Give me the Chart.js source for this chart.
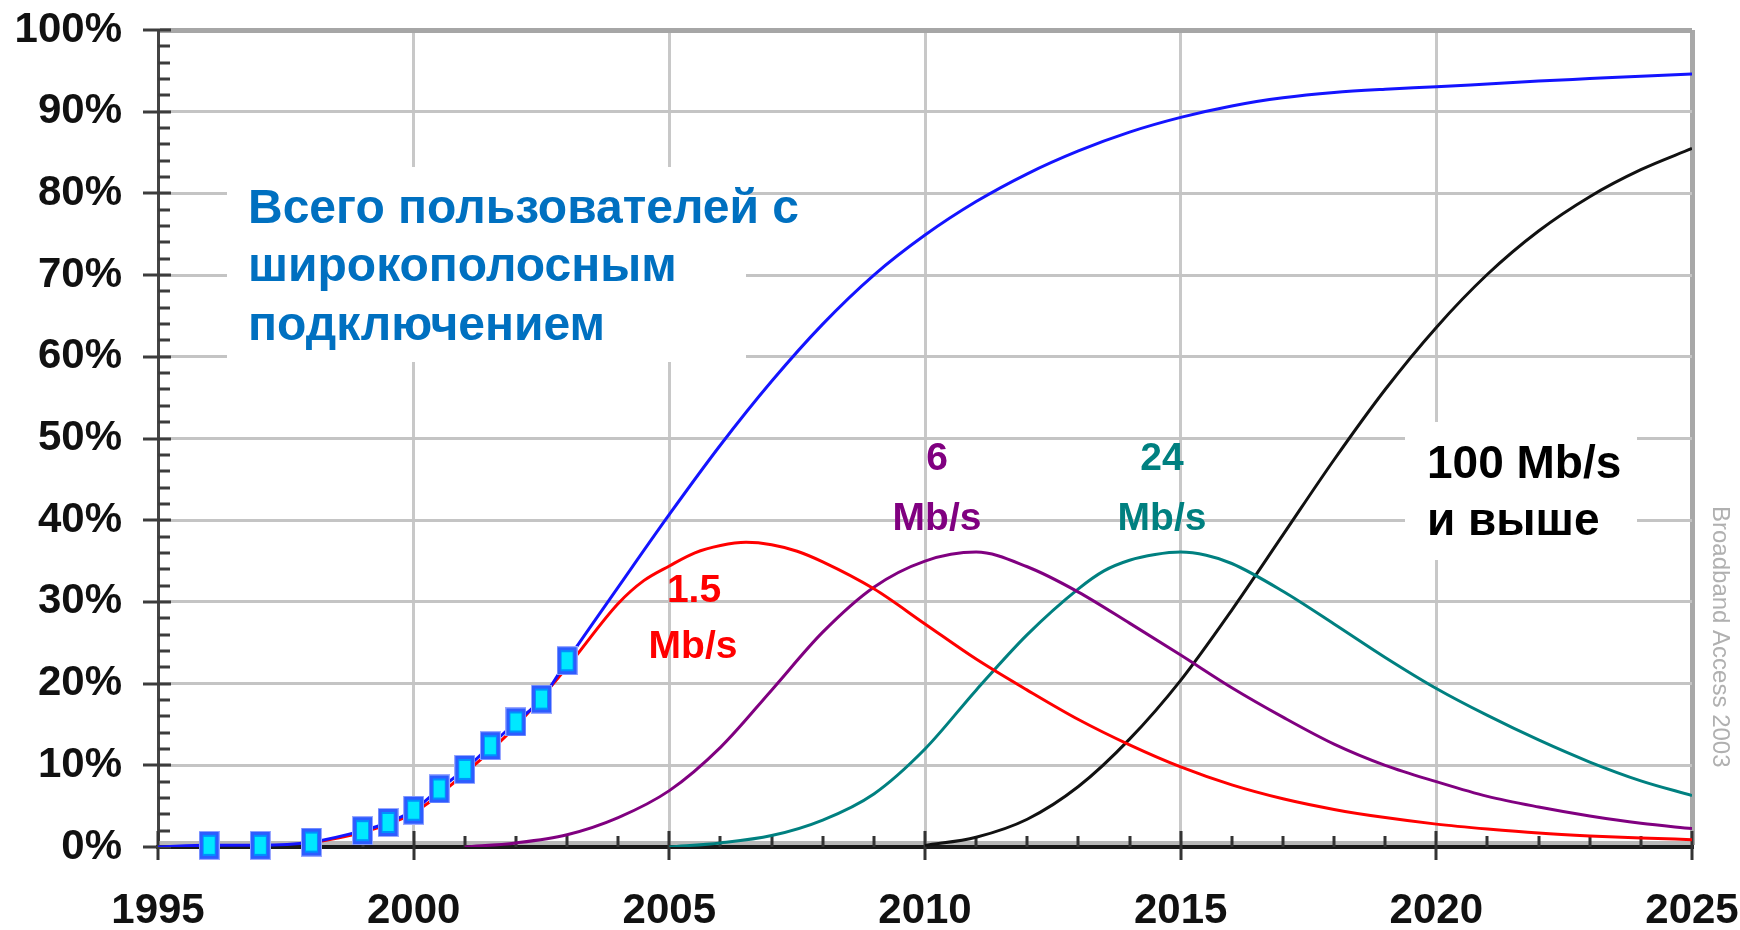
<!DOCTYPE html>
<html>
<head>
<meta charset="utf-8">
<script src="https://cdn.jsdelivr.net/npm/chart.js@4.4.1/dist/chart.umd.min.js"></script>
<style>
html,body{margin:0;padding:0;background:#fff;}
canvas{display:block;}
</style>
</head>
<body>
<canvas id="c" width="1740" height="930"></canvas>
<script>
// ---- data ----
const years = [1995,1996,1997,1998,1999,2000,2001,2002,2003,2004,2005,2006,2007,2008,2009,2010,
               2011,2012,2013,2014,2015,2016,2017,2018,2019,2020,2021,2022,2023,2024,2025];
const measuredYears = [1996,1997,1998,1999,1999.5,2000,2000.5,2001,2001.5,2002,2002.5,2003];
const measuredTotal = [0.2,0.2,0.6,2.0,3.0,4.5,7.1,9.5,12.4,15.3,18.1,22.8];
const forecastYears = [2004,2005,2006,2007,2008,2009,2010,2011,2012,2013,2014,2015,2016,2017,2018,2019,2020,2021,2022,2023,2024,2025];
const forecastTotal = [31.8,40.7,49.2,57.0,64.0,70.0,74.9,79.0,82.4,85.2,87.5,89.3,90.7,91.7,92.35,92.75,93.05,93.4,93.75,94.05,94.35,94.6];
const years1_5 = [1998,1999,2000,2001,2002,2003,2004,2004.5,2005,2005.5,2006,2006.5,2007,2007.5,
                  2008,2009,2010,2011,2012,2013,2014,2015,2016,2017,2018,2019,2020,2021,2022,2023,2024,2025];
const speed1_5 = [0.5,1.8,4.2,9.0,14.8,22.0,29.8,32.6,34.4,36.0,36.9,37.3,37.0,36.2,
                  34.9,31.6,27.3,23.0,19.2,15.6,12.5,9.8,7.6,5.9,4.6,3.6,2.8,2.2,1.7,1.35,1.1,0.9];
const speed6   = [null,null,null,null,null,null,0,0.5,1.5,3.6,6.9,12.2,19.2,26.3,31.8,35.0,36.1,34.3,31.2,27.4,23.5,19.5,15.9,12.6,10.0,8.0,6.2,4.9,3.8,2.9,2.25];
const years24  = [2005,2006,2007,2008,2009,2010,2011,2012,2013,2013.5,2014,2014.5,2015,2015.5,2016,
                  2017,2018,2019,2020,2021,2022,2023,2024,2025];
const speed24  = [0,0.5,1.4,3.3,6.5,12.0,19.2,26.0,31.6,33.8,35.1,35.8,36.1,35.7,34.7,
                  31.3,27.3,23.2,19.4,16.1,13.1,10.4,8.1,6.3];
const speed100 = [null,null,null,null,null,null,null,null,null,null,null,null,null,null,null,0.2,1.2,3.4,7.4,13.2,20.4,29.0,38.2,47.4,56.0,63.6,70.1,75.4,79.6,82.9,85.5];
const yTickValues = [0,10,20,30,40,50,60,70,80,90,100];
const xTickValues = [1995,2000,2005,2010,2015,2020,2025];

// ---- build ----
const FONT = '"Liberation Sans", Arial, Helvetica, sans-serif';
Chart.defaults.font.family = FONT;

function pairs(xs, ys){ return xs.map((x,i)=>({x:x, y:ys[i]})); }
const totalLine = [{x:1995,y:0}].concat(pairs(measuredYears, measuredTotal), pairs(forecastYears, forecastTotal));

function makeMarker(){
  const c = document.createElement('canvas');
  c.width = 21; c.height = 29;
  const g = c.getContext('2d');
  g.fillStyle = '#9aa8ff'; g.fillRect(0,0,21,29);
  g.fillStyle = '#2d5cff'; g.fillRect(1,1,19,27);
  g.fillStyle = '#0090ff'; g.fillRect(4,4,13,21);
  g.fillStyle = '#00e8ff'; g.fillRect(5,6,11,17);
  return c;
}
const marker = makeMarker();

const lineDefaults = {borderWidth:3, pointRadius:0, cubicInterpolationMode:'monotone', fill:false, spanGaps:false};

const annotate = {
  id:'annotate',
  beforeDatasetsDraw(chart){
    const c = chart.ctx, a = chart.chartArea;
    const xs = chart.scales.x, ys = chart.scales.y;
    c.save();
    c.fillStyle = '#b9b9b9';
    c.fillRect(a.left, a.bottom - 6, a.right - a.left, 4);
    c.fillStyle = '#ffffff';
    c.fillRect(227, 167, 519, 195);
    c.fillRect(1405, 422, 232, 138);
    // tick marks
    c.fillStyle = '#333333';
    for (let yr = 1995; yr <= 2025; yr++){
      const px = Math.round(xs.getPixelForValue(yr));
      if (yr % 5 === 0) c.fillRect(px - 1.5, a.bottom - 16, 3, 29);
      else c.fillRect(px - 1.5, a.bottom - 11, 3, 11);
    }
    c.fillStyle = '#3c3c3c';
    for (let v = 0; v <= 100; v += 2){
      const py = Math.round(ys.getPixelForValue(v));
      if (v % 10 === 0) c.fillRect(a.left - 15, py - 1.5, 28, 3);
      else c.fillRect(a.left, py - 1.5, 12, 3);
    }
    c.restore();
  },
  afterDatasetsDraw(chart){
    const c = chart.ctx;
    c.save();
    c.textBaseline = 'alphabetic';
    c.textAlign = 'left';
    c.font = 'bold 48px ' + FONT;
    c.fillStyle = '#0070c0';
    c.fillText('Всего пользователей с', 248, 223);
    c.fillText('широкополосным', 248, 281);
    c.fillText('подключением', 248, 340);
    c.font = 'bold 46px ' + FONT;
    c.fillStyle = '#000000';
    c.fillText('100 Mb/s', 1427, 478);
    c.fillText('и выше', 1427, 535);
    c.textAlign = 'center';
    c.font = 'bold 39px ' + FONT;
    c.fillStyle = '#ff0000';
    c.fillText('1.5', 694, 602);
    c.fillText('Mb/s', 693, 658);
    c.fillStyle = '#800080';
    c.fillText('6', 937, 470);
    c.fillText('Mb/s', 937, 530);
    c.fillStyle = '#008080';
    c.fillText('24', 1162, 470);
    c.fillText('Mb/s', 1162, 530);
    // vertical credit
    c.translate(1720, 506);
    c.rotate(Math.PI/2);
    c.textAlign = 'left';
    c.textBaseline = 'middle';
    c.font = '24px ' + FONT;
    c.fillStyle = '#b0b0b0';
    c.fillText('Broadband Access 2003', 0, 0);
    c.restore();
  }
};

new Chart(document.getElementById('c'), {
  type:'line',
  data:{
    datasets:[
      {label:'measured', data:pairs(measuredYears, measuredTotal), showLine:false,
       pointStyle:marker, pointRadius:10, clip:false, borderColor:'#2d5cff', backgroundColor:'#00e8ff'},
      Object.assign({label:'total', data:totalLine, borderColor:'#1414ff'}, lineDefaults),
      Object.assign({label:'1.5 Mb/s', data:pairs(years1_5, speed1_5), borderColor:'#ff0000'}, lineDefaults),
      Object.assign({label:'6 Mb/s', data:pairs(years, speed6), borderColor:'#800080'}, lineDefaults),
      Object.assign({label:'24 Mb/s', data:pairs(years24, speed24), borderColor:'#008080'}, lineDefaults),
      Object.assign({label:'100 Mb/s', data:pairs(years, speed100), borderColor:'#111111'}, lineDefaults)
    ]
  },
  options:{
    responsive:false,
    animation:false,
    devicePixelRatio:1,
    layout:{padding:{top:30, right:48, left:0, bottom:0}},
    plugins:{legend:{display:false}, tooltip:{enabled:false}},
    scales:{
      x:{
        type:'linear', min:1995, max:2025,
        afterBuildTicks(scale){ scale.ticks = xTickValues.map(v=>({value:v})); },
        afterFit(scale){ scale.height = 83; scale.paddingLeft = 0; scale.paddingRight = 0; },
        ticks:{autoSkip:false, maxRotation:0, padding:39, color:'#111111',
               font:{size:42, weight:'bold'}, callback:(v)=>String(v)},
        grid:{drawTicks:false,
              color:(ctx)=> ctx.tick && ctx.tick.value === 1995 ? 'rgba(0,0,0,0)' : (ctx.tick && ctx.tick.value === 2025 ? '#a8a8a8' : '#c8c8c8'),
              lineWidth:(ctx)=> ctx.tick && ctx.tick.value === 2025 ? 5 : 3},
        border:{display:true, color:'#1a1a1a', width:4}
      },
      y:{
        type:'linear', min:0, max:100,
        afterBuildTicks(scale){ scale.ticks = yTickValues.map(v=>({value:v})); },
        afterFit(scale){ scale.width = 158; scale.paddingTop = 0; scale.paddingBottom = 0; },
        ticks:{padding:36, color:'#111111', font:{size:42, weight:'bold'}, callback:(v)=>v + '%'},
        grid:{drawTicks:false,
              color:(ctx)=> ctx.tick && ctx.tick.value === 0 ? 'rgba(0,0,0,0)' : (ctx.tick && ctx.tick.value === 100 ? '#a6a6a6' : '#c4c4c4'),
              lineWidth:(ctx)=> ctx.tick && ctx.tick.value === 100 ? 5 : 3},
        border:{display:true, color:'#444444', width:3}
      }
    }
  },
  plugins:[annotate]
});
</script>
</body>
</html>
